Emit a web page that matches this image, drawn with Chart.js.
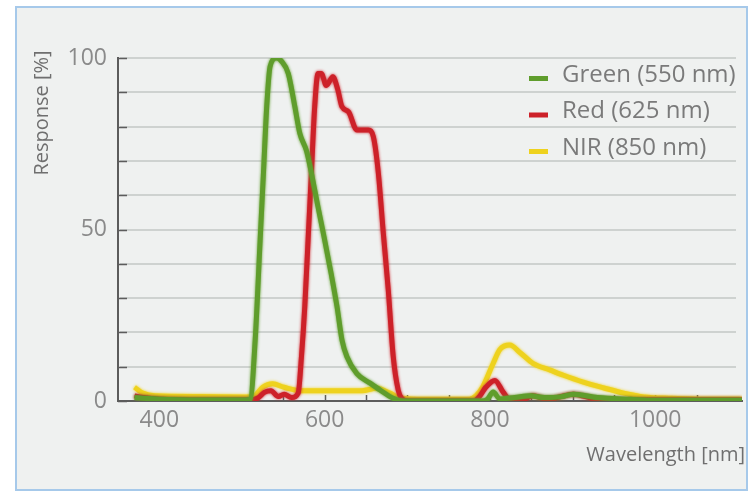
<!DOCTYPE html>
<html>
<head>
<meta charset="utf-8">
<script src="https://cdn.jsdelivr.net/npm/chart.js@4.4.0/dist/chart.umd.min.js"></script>
<style>
  body { margin: 0; background: #fff; }
  #frame { position: absolute; left: 15px; top: 6px; width: 729px; height: 481px; border: 2px solid #a6c9ea; background: #eff1f0; }
  #myChart { position: absolute; left: 0; top: 0; }
</style>
</head>
<body>
<div id="frame"></div>
<canvas id="myChart" width="748" height="491"></canvas>
<script>
// series labels + colours
var LABELS = ["Green (550 nm)", "Red (625 nm)", "NIR (850 nm)"]
var COLORS = ["#5f9d2c", "#cd2129", "#eed21e"]
var X_TITLE = "Wavelength [nm]"
var Y_TITLE = "Response [%]"

// wavelength [nm] / response [%]
var greenNm = [370, 380, 400, 450, 505, 510, 516, 522, 526, 530, 534, 542, 548, 556, 564, 570, 578, 584, 592, 600, 608, 615, 621, 627, 639, 655, 667, 683, 695, 750, 790, 797, 804, 812, 830, 849, 866, 885, 901, 930, 970, 1000, 1105]
var greenVal = [1, 0.8, 0.5, 0.3, 0.3, 0.5, 17.8, 47, 66.5, 86, 97.5, 100, 99, 95.5, 85.8, 78, 73, 66.5, 56.6, 47, 37, 27.5, 17.8, 12.9, 8, 5.2, 3.2, 0.8, 0, 0, 0, 0.5, 2.6, 0.6, 1, 1.5, 1, 1.2, 2, 1, 0.5, 0.2, 0.2]

var redNm = [370, 380, 400, 450, 510, 520, 527, 535, 544, 551, 560, 568, 572, 576, 580, 584, 588, 592, 596, 602, 610, 616, 621, 629, 639, 653, 659, 665, 671, 677, 683, 689, 693, 700, 780, 788, 795, 806, 816, 824, 840, 852, 870, 901, 930, 1000, 1105]
var redVal = [1.5, 1, 0.5, 0.3, 0.3, 1, 2.5, 3, 1.3, 2, 1, 2.3, 13, 27.5, 47, 66.5, 85.8, 95.5, 95.5, 92, 94.5, 90.7, 85.8, 84.3, 79, 79, 77, 66.5, 49, 32.4, 13, 3.2, 0.8, 0, 0, 1.5, 4, 6, 2.6, 0.5, 0.5, 1.5, 0.5, 2, 0.5, 0.3, 0.3]

var nirNm = [370, 380, 395, 450, 505, 515, 525, 537, 551, 572, 612, 645, 663, 679, 691, 720, 775, 783, 791, 804, 812, 824, 837, 852, 873, 889, 913, 938, 962, 987, 1020, 1060, 1105]
var nirVal = [4, 2.3, 1.5, 1.3, 1.2, 1.5, 4, 5, 4, 3, 3, 3, 3.7, 2.3, 0.9, 0.5, 0.5, 1.5, 4, 11, 15, 16.3, 14, 11, 9, 7.5, 5.5, 3.8, 2.3, 1.2, 0.8, 0.5, 0.5]

var X_MIN = 350, X_MAX = 1105
var Y_MIN = 0, Y_MAX = 100
var GRID_COLOR = '#c4c8c5'

function toPoints(xs, ys) {
  return xs.map(function(x, i) { return {x: x, y: ys[i]} })
}

// horizontal guide lines + little tick marks pointing into the plot
const inwardTicks = {
  id: 'inwardTicks',
  beforeDatasetsDraw(chart) {
    const ctx = chart.ctx, xs = chart.scales.x, ys = chart.scales.y
    ctx.save()
    ctx.strokeStyle = GRID_COLOR
    ctx.lineWidth = 1.5
    ctx.beginPath()
    ys.ticks.forEach(function(t) {
      if (t.value % 10 !== 0 || t.value === Y_MIN) return
      const py = Math.round(ys.getPixelForValue(t.value))
      ctx.moveTo(xs.left + 2, py); ctx.lineTo(xs.right - 6, py)
    })
    ctx.stroke()

    ctx.strokeStyle = '#5c5c5c'
    ctx.lineWidth = 1.5
    ctx.beginPath()
    ys.ticks.forEach(function(t) {
      if (t.value % 10 !== 0) return
      const py = Math.round(ys.getPixelForValue(t.value)) + 0.5
      ctx.moveTo(xs.left, py); ctx.lineTo(xs.left + 9, py)
    })
    xs.ticks.forEach(function(t) {
      if (t.value % 50 !== 0 || t.value === X_MIN) return
      const px = Math.round(xs.getPixelForValue(t.value)) + 0.5
      ctx.moveTo(px, ys.bottom); ctx.lineTo(px, ys.bottom - 6)
    })
    ctx.stroke()
    ctx.restore()
  }
}

// soft edge on the curves, like the scanned original
const softLines = {
  id: 'softLines',
  beforeDatasetDraw(chart, args) {
    const ctx = chart.ctx
    ctx.save()
    ctx.shadowColor = chart.data.datasets[args.index].borderColor
    ctx.shadowBlur = 3
  },
  afterDatasetDraw(chart) {
    chart.ctx.restore()
  }
}

// axis titles + legend sitting inside the plot
const extras = {
  id: 'extras',
  afterDraw(chart) {
    const ctx = chart.ctx
    ctx.save()
    ctx.fillStyle = '#6f6f6f'
    ctx.font = '20px "Open Sans"'
    ctx.textBaseline = 'middle'
    ctx.textAlign = 'right'
    ctx.fillText(X_TITLE, 745, 455)
    ctx.translate(42, 113)
    ctx.rotate(-Math.PI / 2)
    ctx.textAlign = 'center'
    ctx.fillText(Y_TITLE, 0, 0)
    ctx.restore()

    ctx.save()
    ctx.font = '24px "Open Sans"'
    ctx.textBaseline = 'middle'
    ctx.textAlign = 'left'
    chart.data.datasets.forEach(function(ds, i) {
      const y = 75 + i * 36.5
      ctx.fillStyle = ds.borderColor
      ctx.fillRect(529, y + 1, 19, 5)
      ctx.fillStyle = '#7a7a7a'
      ctx.fillText(ds.label, 562, y)
    })
    ctx.restore()
  }
}

const seriesX = [greenNm, redNm, nirNm]
const seriesY = [greenVal, redVal, nirVal]

const data = {
  datasets: LABELS.map(function(label, i) {
    return {
      label: label,
      data: toPoints(seriesX[i], seriesY[i]),
      borderColor: COLORS[i],
      backgroundColor: COLORS[i],
      borderWidth: 5,
      pointRadius: 0,
      fill: false,
      cubicInterpolationMode: 'monotone'
    }
  })
}

const config = {
  type: 'line',
  data: data,
  options: {
    responsive: false,
    animation: false,
    layout: { padding: { top: 58, left: 0, right: 6, bottom: 0 } },
    plugins: {
      legend: { display: false },
      tooltip: { enabled: false }
    },
    scales: {
      x: {
        type: 'linear',
        min: X_MIN,
        max: X_MAX,
        afterFit: function(scale) { scale.height = 90 },
        grid: { display: false, drawTicks: false },
        border: { display: true, color: '#5c5c5c', width: 2 },
        ticks: {
          stepSize: 50,
          autoSkip: false,
          maxRotation: 0,
          padding: 6,
          color: '#8a8a8a',
          font: { family: 'Open Sans', size: 23 },
          callback: function(v) { return (v >= 400 && v % 200 === 0) ? v : '' }
        }
      },
      y: {
        min: Y_MIN,
        max: Y_MAX,
        afterFit: function(scale) { scale.width = 118 },
        grid: { display: false, drawTicks: false },
        border: { display: true, color: '#5c5c5c', width: 2 },
        ticks: {
          stepSize: 10,
          padding: 11,
          color: '#8a8a8a',
          font: { family: 'Open Sans', size: 23 },
          callback: function(v) { return v % 50 === 0 ? v : '' }
        }
      }
    }
  },
  plugins: [inwardTicks, softLines, extras]
}

var myChart = new Chart(document.getElementById('myChart'), config)
</script>
</body>
</html>
